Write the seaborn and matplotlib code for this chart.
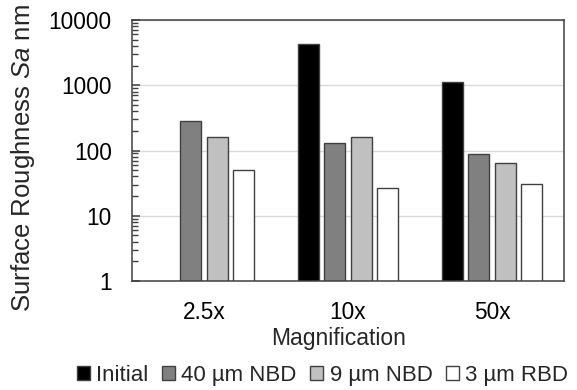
import numpy as np
import pandas as pd
import matplotlib
matplotlib.use("Agg")
import matplotlib.pyplot as plt
import seaborn as sns
from matplotlib.ticker import LogLocator, FixedLocator, NullFormatter

magnifications = ["2.5x", "10x", "50x"]
series = ["Initial", "40 µm NBD", "9 µm NBD", "3 µm RBD"]
initial = [np.nan, 4240, 1120]
nbd40 = [283, 132, 87]
nbd9 = [159, 159, 64]
rbd3 = [51, 27, 31]
colors = ["#000000", "#808080", "#c0c0c0", "#ffffff"]
yticks = [1, 10, 100, 1000, 10000]

rows = []
for name, vals in zip(series, [initial, nbd40, nbd9, rbd3]):
    for m, v in zip(magnifications, vals):
        rows.append({"Magnification": m, "Series": name, "Value": v})
df = pd.DataFrame(rows)

sns.set_theme(style="white")
plt.rcParams["font.family"] = ["Liberation Sans", "DejaVu Sans"]
plt.rcParams["mathtext.fontset"] = "custom"
plt.rcParams["mathtext.it"] = "Liberation Sans:italic"
plt.rcParams["mathtext.rm"] = "Liberation Sans"

fig = plt.figure(figsize=(5.77, 3.90), dpi=100)
ax = fig.add_axes([132/577, 1-281/390, (564-132)/577, (281-20)/390])
ax.set_yscale("log", nonpositive="clip")

sns.barplot(data=df, x="Magnification", y="Value", hue="Series",
            order=magnifications, hue_order=series, palette=colors,
            width=0.73, gap=0.2, edgecolor="#404040", linewidth=1.0,
            ax=ax, saturation=1)

ax.set_ylim(1, 10000)
ax.yaxis.set_major_locator(FixedLocator(yticks))
ax.set_yticklabels([str(t) for t in yticks])
ax.yaxis.set_minor_locator(LogLocator(base=10, subs=np.arange(2, 10)))
ax.yaxis.set_minor_formatter(NullFormatter())
ax.grid(axis="y", which="major", color="#d9d9d9", linewidth=1)
ax.set_axisbelow(True)
ax.tick_params(axis="y", which="major", direction="in", length=5.5, width=1.1,
               color="#404040", left=True, pad=14.5, labelsize=16.3, labelcolor="#000000")
ax.tick_params(axis="y", which="minor", direction="in", length=4.2, width=1.0,
               color="#404040", left=True)
ax.tick_params(axis="x", length=0, pad=14.5, labelsize=16.3, labelcolor="#000000")
for s in ax.spines.values():
    s.set_color("#404040")
    s.set_linewidth(1.1)
    s.set_visible(True)

ax.set_xlabel("Magnification", fontsize=16.5, va="baseline", ha="center")
ax.xaxis.set_label_coords(0.477, -0.245)
ax.set_ylabel(r"Surface Roughness $\mathit{Sa}$ nm", fontsize=18.5)
ax.yaxis.set_label_coords(-0.221, 0.47)

sns.move_legend(ax, "center", bbox_to_anchor=(0.441, -0.363), ncol=4,
                frameon=False, title=None, fontsize=16,
                handlelength=0.58, handleheight=0.58, handletextpad=0.3,
                columnspacing=0.6, borderaxespad=0, borderpad=0)

fig.savefig("out.png", dpi=100)
